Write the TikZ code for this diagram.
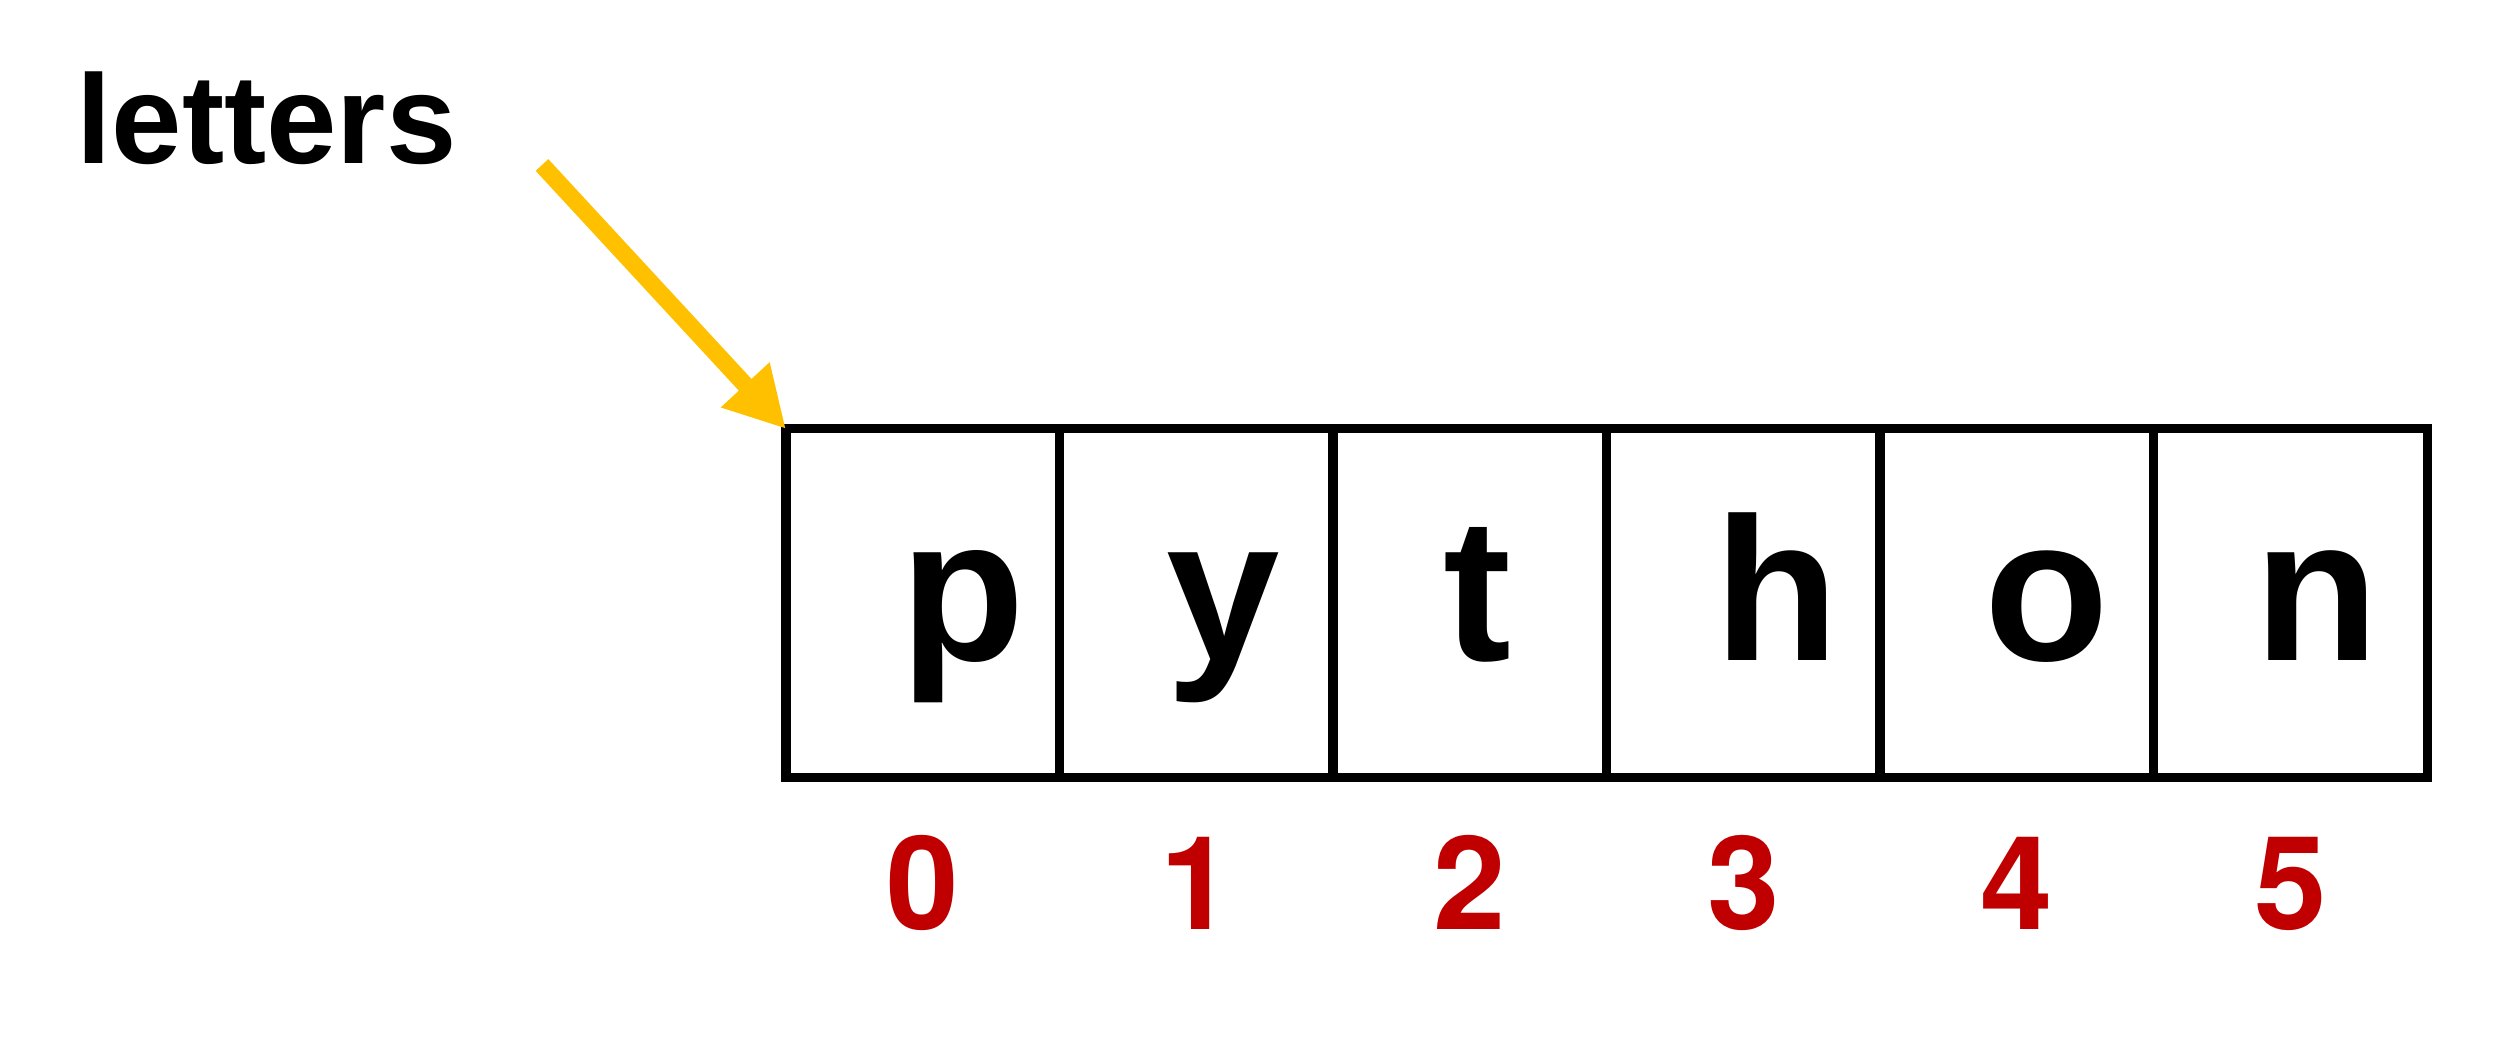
\documentclass[tikz,border=0pt]{standalone}
\usepackage{fontspec}
\setmainfont{Liberation Sans}
\newfontfamily\digitfont{TeX Gyre Heros}
\usetikzlibrary{arrows.meta, calc, positioning}
\definecolor{arrowgold}{HTML}{FFC000}
\definecolor{idxred}{HTML}{C00000}

\begin{document}
\begin{tikzpicture}[x=0.01cm, y=-0.01cm,
  cell/.style={draw, line width=2.6pt, minimum width=2.735cm, minimum height=3.48cm, inner sep=0pt, outer sep=0pt},
  letter/.style={font=\fontsize{58}{60}\selectfont\bfseries, inner sep=0pt, text height=30pt, text depth=0pt},
  idx/.style={font=\digitfont\fontsize{37}{40}\selectfont\bfseries, text=idxred, inner sep=0pt, anchor=base},
  pointer/.style={arrowgold, line width=4.9pt, -{Triangle[length=0.6cm, width=0.62cm]}}]
\useasboundingbox (0,0) rectangle (2500,1036);
% label and the free end of the pointer
\node[font=\fontsize{36}{40}\selectfont\bfseries, anchor=base west, inner sep=0pt] (name) at (76,163) {letters};
\coordinate (tail) at (542,165);
% the cells with their indices
\foreach \ch/\dx [count=\i from 0] in {p/0.40,y/0.27,t/0.08,h/0.34,o/0.30,n/0.26}{
  \node[cell] (c\i) at ({922.75+273.5*\i},603) {};
  \node[letter] (l\i) at ([xshift=\dx cm, yshift=-0.05cm]c\i.center) {\ch};
  \node[idx] (n\i) at ([yshift=-1.52cm]c\i.south) {\i};
}
\draw[pointer] (tail) -- (c0.north west);
\end{tikzpicture}
\end{document}
